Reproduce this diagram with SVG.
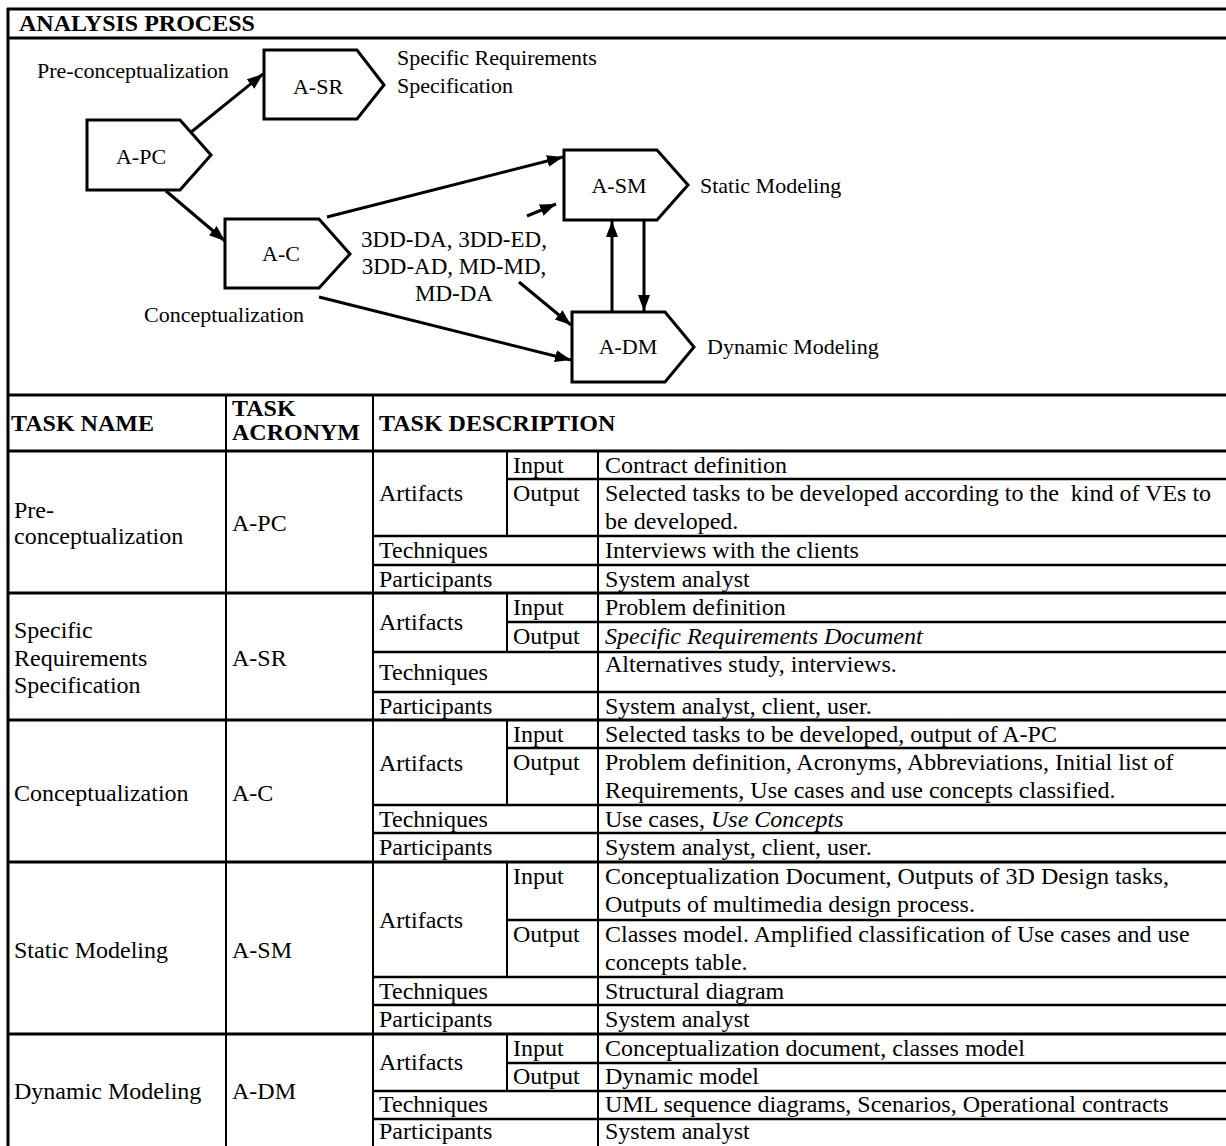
<svg xmlns="http://www.w3.org/2000/svg" width="1226" height="1146" viewBox="0 0 1226 1146">
<defs>
<style>
text{font-family:"Liberation Serif","Times New Roman",serif;fill:#000}
.d{font-size:22px}
.t{font-size:24px}
.b{font-size:24px;font-weight:bold}
.i{font-style:italic}
.box{fill:#fff;stroke:#000;stroke-width:3;stroke-linejoin:miter}
.arr{stroke:#000;stroke-width:3;fill:none;marker-end:url(#ah)}
.L{stroke:#000;stroke-width:3}
.l{stroke:#000;stroke-width:2.5}
.v{stroke:#000;stroke-width:2}
</style>
<marker id="ah" markerUnits="userSpaceOnUse" markerWidth="18" markerHeight="14" refX="16" refY="6" orient="auto">
<path d="M0,0 L16,6 L0,12 z" fill="#000"/>
</marker>
</defs>
<rect width="1226" height="1146" fill="#fff"/>

<g id="frame">
<line class="L" x1="7" y1="9" x2="1226" y2="9"/>
<line class="L" x1="8" y1="8" x2="8" y2="1146"/>
<line class="L" x1="7" y1="38" x2="1226" y2="38"/>
<text class="b" x="19" y="31">ANALYSIS PROCESS</text>
</g>

<g id="connectors">
<line class="arr" x1="190" y1="133" x2="263" y2="74"/>
<line class="arr" x1="166" y1="191" x2="225" y2="241"/>
<line class="arr" x1="327" y1="217" x2="563" y2="157"/>
<line class="arr" x1="527" y1="216" x2="556" y2="204"/>
<line class="arr" x1="519" y1="282" x2="571" y2="325"/>
<line class="arr" x1="319" y1="297" x2="571" y2="360"/>
<line class="arr" x1="612" y1="312" x2="612" y2="221"/>
<line class="arr" x1="644" y1="220" x2="644" y2="311"/>
</g>

<g id="node-A-SR">
<path class="box" d="M264,50 H357 L384,85 L357,119 H264 Z"/>
<text class="d" x="318" y="94" text-anchor="middle">A-SR</text>
<text class="d" x="397" y="65">Specific Requirements</text>
<text class="d" x="397" y="93">Specification</text>
</g>
<g id="node-A-PC">
<path class="box" d="M87,120 H180 L211,155 L180,190 H87 Z"/>
<text class="d" x="141" y="164" text-anchor="middle">A-PC</text>
<text class="d" x="37" y="78">Pre-conceptualization</text>
</g>
<g id="node-A-C">
<path class="box" d="M225,219 H319 L350,254 L319,288 H225 Z"/>
<text class="d" x="281" y="261" text-anchor="middle">A-C</text>
<text class="d" x="144" y="322">Conceptualization</text>
</g>
<g id="node-A-SM">
<path class="box" d="M564,150 H657 L688,185 L657,220 H564 Z"/>
<text class="d" x="619" y="193" text-anchor="middle">A-SM</text>
<text class="d" x="700" y="193">Static Modeling</text>
</g>
<g id="node-A-DM">
<path class="box" d="M572,312 H665 L694,347 L665,382 H572 Z"/>
<text class="d" x="628" y="354" text-anchor="middle">A-DM</text>
<text class="d" x="707" y="354">Dynamic Modeling</text>
</g>
<g id="label-3dd">
<text class="d" x="454" y="247" text-anchor="middle" style="font-size:23px">3DD-DA, 3DD-ED,</text>
<text class="d" x="454" y="274" text-anchor="middle" style="font-size:23px">3DD-AD, MD-MD,</text>
<text class="d" x="454" y="301" text-anchor="middle" style="font-size:23px">MD-DA</text>
</g>

<g id="table">
<line class="L" x1="7" y1="395" x2="1226" y2="395"/>
<line class="L" x1="7" y1="451" x2="1226" y2="451"/>
<line class="L" x1="7" y1="593" x2="1226" y2="593"/>
<line class="L" x1="7" y1="720" x2="1226" y2="720"/>
<line class="L" x1="7" y1="862" x2="1226" y2="862"/>
<line class="L" x1="7" y1="1034" x2="1226" y2="1034"/>
<line class="v" x1="226" y1="395" x2="226" y2="1146"/>
<line class="v" x1="373" y1="395" x2="373" y2="1146"/>
<line class="v" x1="598" y1="451" x2="598" y2="1146"/>
<line class="v" x1="507" y1="451" x2="507" y2="536"/>
<line class="v" x1="507" y1="593" x2="507" y2="652"/>
<line class="v" x1="507" y1="720" x2="507" y2="805"/>
<line class="v" x1="507" y1="862" x2="507" y2="977"/>
<line class="v" x1="507" y1="1034" x2="507" y2="1091"/>
<line class="l" x1="507" y1="479" x2="1226" y2="479"/>
<line class="l" x1="373" y1="536" x2="1226" y2="536"/>
<line class="l" x1="373" y1="565" x2="1226" y2="565"/>
<line class="l" x1="507" y1="622" x2="1226" y2="622"/>
<line class="l" x1="373" y1="652" x2="1226" y2="652"/>
<line class="l" x1="373" y1="692" x2="1226" y2="692"/>
<line class="l" x1="507" y1="748" x2="1226" y2="748"/>
<line class="l" x1="373" y1="805" x2="1226" y2="805"/>
<line class="l" x1="373" y1="833" x2="1226" y2="833"/>
<line class="l" x1="507" y1="920" x2="1226" y2="920"/>
<line class="l" x1="373" y1="977" x2="1226" y2="977"/>
<line class="l" x1="373" y1="1005" x2="1226" y2="1005"/>
<line class="l" x1="507" y1="1063" x2="1226" y2="1063"/>
<line class="l" x1="373" y1="1091" x2="1226" y2="1091"/>
<line class="l" x1="373" y1="1119" x2="1226" y2="1119"/>

<text class="b" x="11" y="431">TASK NAME</text>
<text class="b" x="232" y="416">TASK</text>
<text class="b" x="232" y="440">ACRONYM</text>
<text class="b" x="379" y="431">TASK DESCRIPTION</text>

<text class="t" x="14" y="518">Pre-</text>
<text class="t" x="14" y="544">conceptualization</text>
<text class="t" x="232" y="531">A-PC</text>
<text class="t" x="379" y="501">Artifacts</text>
<text class="t" x="513" y="473">Input</text>
<text class="t" x="513" y="501">Output</text>
<text class="t" x="379" y="558">Techniques</text>
<text class="t" x="379" y="587">Participants</text>
<text class="t" x="605" y="473">Contract definition</text>
<text class="t" x="605" y="501" style="white-space:pre">Selected tasks to be developed according to the  kind of VEs to</text>
<text class="t" x="605" y="529">be developed.</text>
<text class="t" x="605" y="558">Interviews with the clients</text>
<text class="t" x="605" y="587">System analyst</text>

<text class="t" x="14" y="638">Specific</text>
<text class="t" x="14" y="666">Requirements</text>
<text class="t" x="14" y="693">Specification</text>
<text class="t" x="232" y="666">A-SR</text>
<text class="t" x="379" y="630">Artifacts</text>
<text class="t" x="513" y="615">Input</text>
<text class="t" x="513" y="644">Output</text>
<text class="t" x="379" y="680">Techniques</text>
<text class="t" x="379" y="714">Participants</text>
<text class="t" x="605" y="615">Problem definition</text>
<text class="t i" x="605" y="644">Specific Requirements Document</text>
<text class="t" x="605" y="672">Alternatives study, interviews.</text>
<text class="t" x="605" y="714">System analyst, client, user.</text>

<text class="t" x="14" y="801">Conceptualization</text>
<text class="t" x="232" y="801">A-C</text>
<text class="t" x="379" y="771">Artifacts</text>
<text class="t" x="513" y="742">Input</text>
<text class="t" x="513" y="770">Output</text>
<text class="t" x="379" y="827">Techniques</text>
<text class="t" x="379" y="855">Participants</text>
<text class="t" x="605" y="742">Selected tasks to be developed, output of A-PC</text>
<text class="t" x="605" y="770">Problem definition, Acronyms, Abbreviations, Initial list of</text>
<text class="t" x="605" y="798">Requirements, Use cases and use concepts classified.</text>
<text class="t" x="605" y="827">Use cases, <tspan class="i">Use Concepts</tspan></text>
<text class="t" x="605" y="855">System analyst, client, user.</text>

<text class="t" x="14" y="958">Static Modeling</text>
<text class="t" x="232" y="958">A-SM</text>
<text class="t" x="379" y="928">Artifacts</text>
<text class="t" x="513" y="884">Input</text>
<text class="t" x="513" y="942">Output</text>
<text class="t" x="379" y="999">Techniques</text>
<text class="t" x="379" y="1027">Participants</text>
<text class="t" x="605" y="884">Conceptualization Document, Outputs of 3D Design tasks,</text>
<text class="t" x="605" y="912">Outputs of multimedia design process.</text>
<text class="t" x="605" y="942">Classes model. Amplified classification of Use cases and use</text>
<text class="t" x="605" y="970">concepts table.</text>
<text class="t" x="605" y="999">Structural diagram</text>
<text class="t" x="605" y="1027">System analyst</text>

<text class="t" x="14" y="1099">Dynamic Modeling</text>
<text class="t" x="232" y="1099">A-DM</text>
<text class="t" x="379" y="1070">Artifacts</text>
<text class="t" x="513" y="1056">Input</text>
<text class="t" x="513" y="1084">Output</text>
<text class="t" x="379" y="1112">Techniques</text>
<text class="t" x="379" y="1139">Participants</text>
<text class="t" x="605" y="1056">Conceptualization document, classes model</text>
<text class="t" x="605" y="1084">Dynamic model</text>
<text class="t" x="605" y="1112">UML sequence diagrams, Scenarios, Operational contracts</text>
<text class="t" x="605" y="1139">System analyst</text>
</g>
</svg>
